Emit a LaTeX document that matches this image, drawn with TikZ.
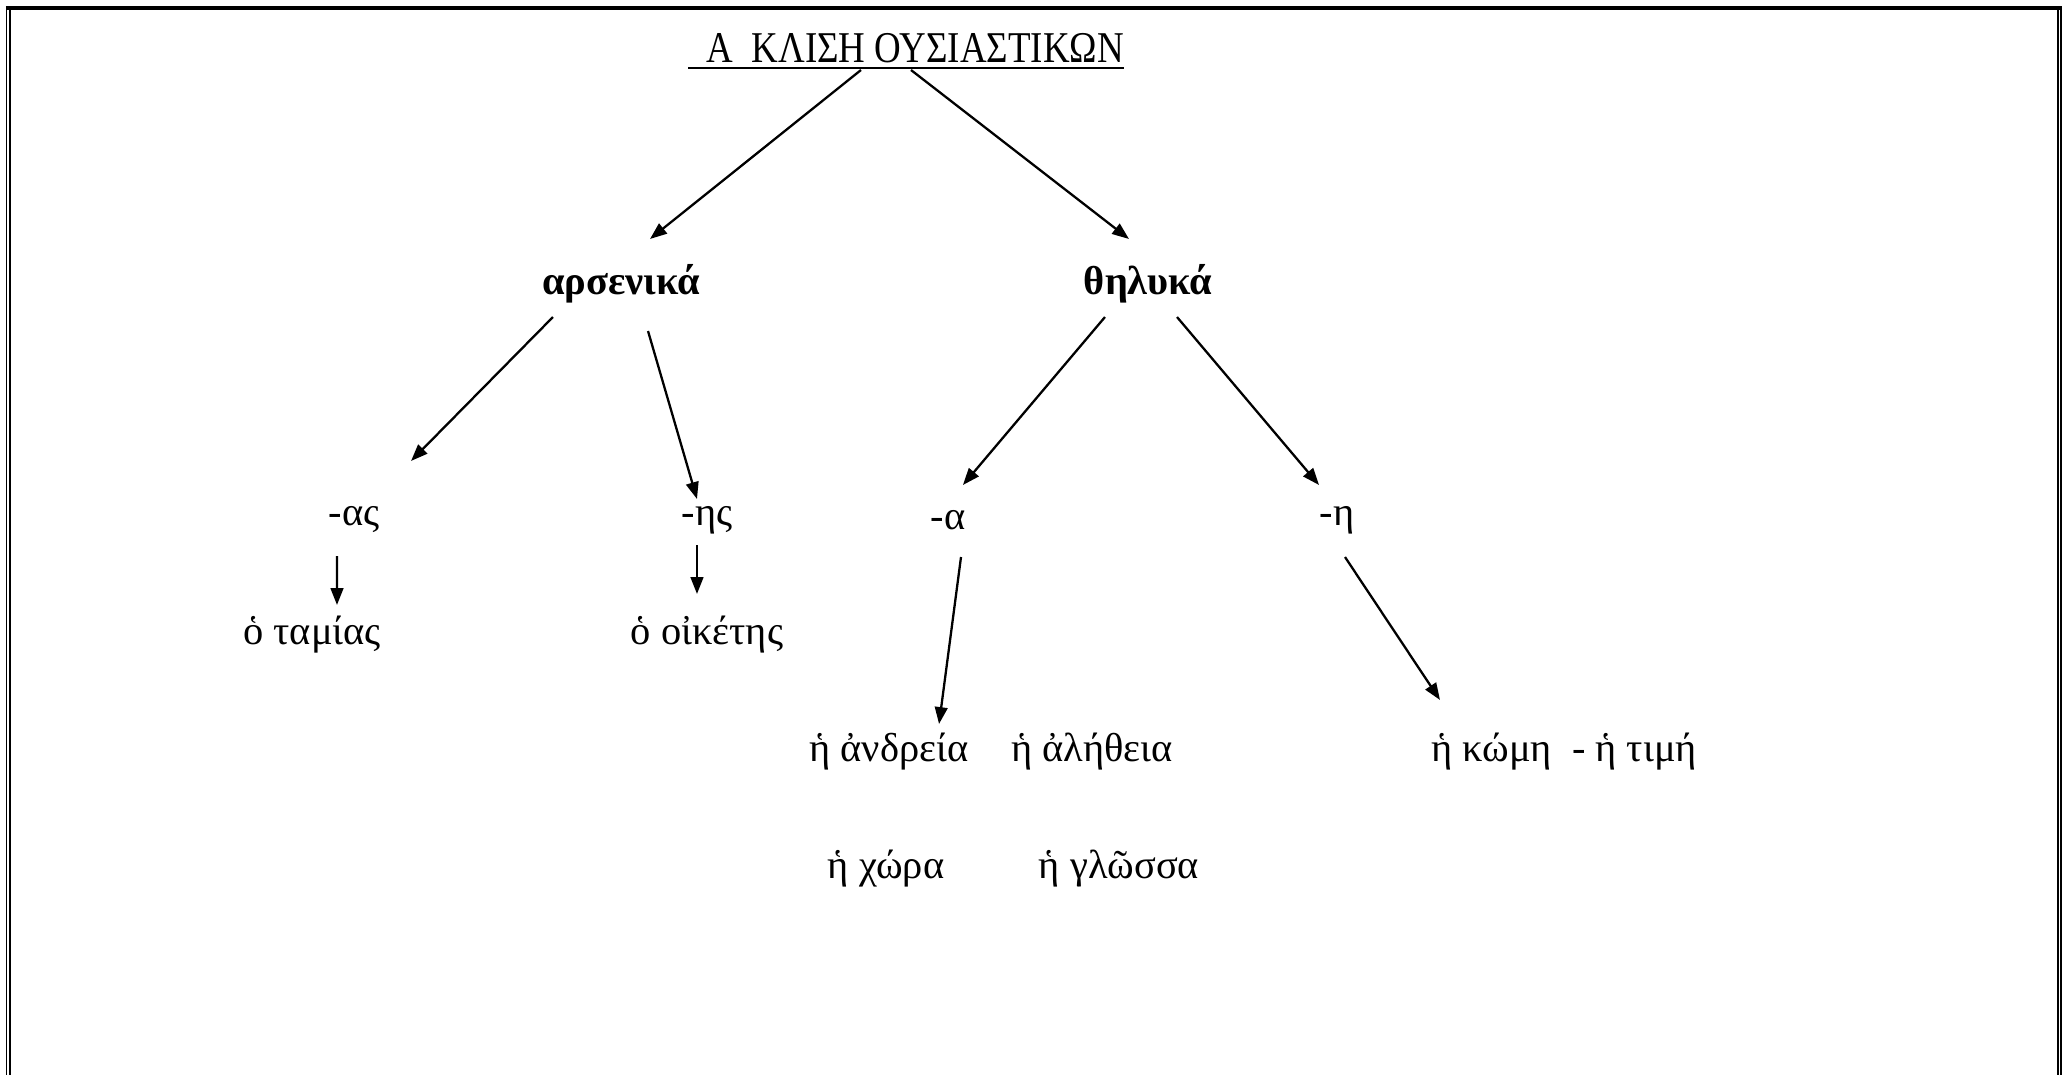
\documentclass[tikz,border=0pt]{standalone}
\usepackage{fontspec}
\setmainfont{Liberation Serif}
\newfontfamily\titlefont[FakeStretch=0.84]{Liberation Serif}
\usepackage{tikz}
\usetikzlibrary{arrows,arrows.meta}

\begin{document}
\begin{tikzpicture}[->,>={Triangle[length=4.8pt,width=3.6pt]}, x=0.01cm, y=-0.01cm, line width=0.65pt]
        \tikzset{
           heading/.style={
                        inner sep=0pt,
                        font=\titlefont\fontsize{12.5}{15}\selectfont,
                        text=black
                       },
           gender/.style={
                        inner sep=0pt,
                        font=\bfseries\fontsize{11.5}{14}\selectfont,
                        text=black
                       },
           ending/.style={
                        inner sep=0pt,
                        font=\fontsize{11.5}{14}\selectfont,
                        text=black
                       },
           example/.style={
                        inner sep=0pt,
                        font=\fontsize{11.5}{14}\selectfont,
                        text=black
                       },
           frame/.style={
                        -,
                        draw=black
                       },
                 };
    %--------------------
        \useasboundingbox (0,0) rectangle (2071,1075);
        \draw[frame, line width=1.15pt] (6,8) -- (2062,8);
        \draw[frame, line width=0.4pt]  (6.5,6) -- (6.5,1075);
        \draw[frame, line width=0.6pt]  (10,10) -- (10,1075);
        \draw[frame, line width=0.35pt] (2058,10) -- (2058,1075);
        \draw[frame, line width=0.6pt]  (2061,6) -- (2061,1075);
    %--------------------
        \node[heading] (title)   at (906,52)  {\underline{\ \ Α\ \ ΚΛΙΣΗ ΟΥΣΙΑΣΤΙΚΩΝ}};

        \node[gender]  (arsen)   at (621,284) {αρσενικά};
        \node[gender]  (thely)   at (1148,284) {θηλυκά};

        \node[ending]  (as)      at (354,520) {-ας};
        \node[ending]  (es)      at (707,520) {-ης};
        \node[ending]  (a)       at (948,520) {-α};
        \node[ending]  (e)       at (1337,520) {-η};

        \node[example] (tamias)  at (312,635) {ὁ ταμίας};
        \node[example] (oiketes) at (707,635) {ὁ οἰκέτης};

        \node[example] (andreia) at (889,752) {ἡ ἀνδρεία};
        \node[example] (aletheia) at (1092,752) {ἡ ἀλήθεια};
        \node[example, anchor=west] (kome) at (1430,752) {ἡ κώμη\ \ - ἡ τιμή};

        \node[example] (chora)   at (886,869) {ἡ χώρα};
        \node[example] (glossa)  at (1119,869) {ἡ γλῶσσα};
    %--------------------
        \path ([xshift=-0.45cm,yshift=-0.18cm]title.center)  edge ([xshift=0.29cm,yshift=0.45cm]arsen.center)
              ([xshift=0.05cm,yshift=-0.18cm]title.center)   edge ([xshift=-0.19cm,yshift=0.45cm]thely.center)

              ([xshift=-0.68cm,yshift=-0.33cm]arsen.center)  edge ([xshift=0.57cm,yshift=0.59cm]as.center)
              ([xshift=0.27cm,yshift=-0.47cm]arsen.center)   edge ([xshift=-0.10cm,yshift=0.21cm]es.center)

              ([xshift=-0.43cm,yshift=-0.33cm]thely.center)  edge ([xshift=0.15cm,yshift=0.35cm]a.center)
              ([xshift=0.29cm,yshift=-0.33cm]thely.center)   edge ([xshift=-0.18cm,yshift=0.35cm]e.center)

              ([xshift=-0.17cm,yshift=-0.36cm]as.center)     edge ([xshift=0.25cm,yshift=0.30cm]tamias.center)
              ([xshift=-0.10cm,yshift=-0.25cm]es.center)     edge ([xshift=-0.10cm,yshift=0.41cm]oiketes.center)

              ([xshift=0.13cm,yshift=-0.37cm]a.center)       edge ([xshift=0.50cm,yshift=0.28cm]andreia.center)
              ([xshift=0.08cm,yshift=-0.37cm]e.center)       edge ([xshift=0.10cm,yshift=0.52cm]kome.west);
    \end{tikzpicture}
\end{document}
